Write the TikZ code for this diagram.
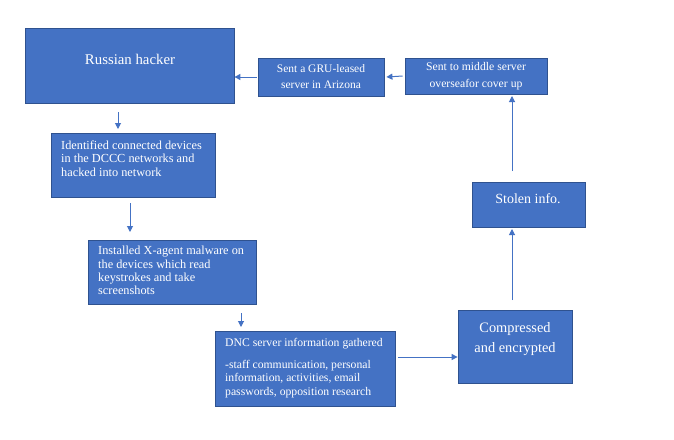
\documentclass[tikz,border=0pt]{standalone}
\usepackage{fontspec}
\setmainfont{Liberation Serif}
\usetikzlibrary{arrows.meta}
\definecolor{boxfill}{HTML}{4472C4}
\definecolor{boxline}{HTML}{2F528F}
\begin{document}
\begin{tikzpicture}[x=1pt,y=-1pt,
  blk/.style={draw=boxline,fill=boxfill,line width=0.8pt,inner sep=0pt},
  txt/.style={text=white,font=\fontsize{12.3}{13.6}\selectfont,inner sep=0pt,align=left},
  arr/.style={draw=boxfill,line width=1pt,-{Triangle[length=6pt,width=6pt]}}]
\useasboundingbox[fill=white] (0,0) rectangle (674,439);
% boxes
\node[blk,minimum width=209,minimum height=75] (hack) at (129.5,65.5) {};
\node[txt,font=\fontsize{14.8}{16}\selectfont] (hackt) at (130,59) {Russian hacker};
\node[blk,minimum width=126,minimum height=38] (gru) at (321,77) {};
\node[txt,align=center,font=\fontsize{11.5}{16}\selectfont] (grut) at (321,77) {Sent a GRU-leased\\server in Arizona};
\node[blk,minimum width=142,minimum height=36] (mid) at (476,76) {};
\node[txt,align=center,font=\fontsize{11.7}{16.5}\selectfont] (midt) at (476,76) {Sent to middle server\\overseafor cover up};
\node[blk,minimum width=113,minimum height=45] (stol) at (528.5,204.5) {};
\node[txt,font=\fontsize{14}{16}\selectfont] (stolt) at (528,199) {Stolen info.};
\node[blk,minimum width=114,minimum height=73] (comp) at (515,346.5) {};
\node[txt,align=center,font=\fontsize{14.4}{20}\selectfont] (compt) at (515,339) {Compressed\\and encrypted};
\node[blk,minimum width=164,minimum height=64] (iden) at (133,165) {};
\node[txt,anchor=north west] (ident) at (61,140.5) {Identified connected devices\\in the DCCC networks and\\hacked into network};
\node[blk,minimum width=168,minimum height=64] (inst) at (172,272) {};
\node[txt,anchor=north west,font=\fontsize{12.3}{13.3}\selectfont] (instt) at (98,246) {Installed X-agent malware on\\the devices which read\\keystrokes and take\\screenshots};
\node[blk,minimum width=180,minimum height=75] (dnc) at (305,368.5) {};
\node[txt,anchor=north west,font=\fontsize{11.7}{13.5}\selectfont] (dnct) at (225,338) {DNC server information gathered\\[8.5pt]-staff communication, personal\\information, activities, email\\passwords, opposition research};
% connectors
\coordinate (a1s) at (118,112);
\coordinate (a1e) at (118,129);
\draw[arr] (a1s) -- (a1e);
\coordinate (a2s) at (130,203);
\coordinate (a2e) at (130,232);
\draw[arr] (a2s) -- (a2e);
\coordinate (a3s) at (241,313);
\coordinate (a3e) at (241,327);
\draw[arr] (a3s) -- (a3e);
\draw[arr] (dnc.east|-0,357) ++(3,0) -- (comp.west|-0,357);
\draw[arr] (512,300) -- (512,229);
\draw[arr] (512,171) -- (512,96);
\draw[arr] (mid.west) ++(-2,0) -- ([xshift=2]gru.east);
\draw[arr] (gru.west) ++(-1,0) -- (hack.east|-gru.west);
\end{tikzpicture}
\end{document}
